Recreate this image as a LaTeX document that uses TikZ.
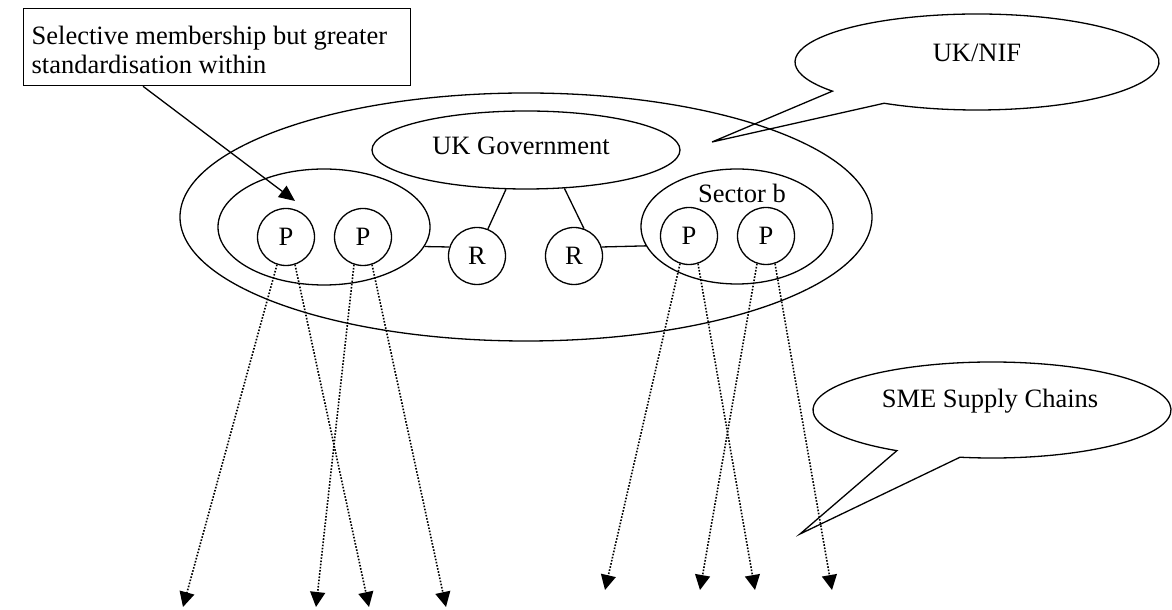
\documentclass[tikz,border=0pt]{standalone}
\usepackage{fontspec}
\setmainfont{Liberation Serif}
\usetikzlibrary{arrows.meta,shapes.geometric}
\begin{document}
\begin{tikzpicture}[x=1pt,y=1pt,line width=1.3pt,
  every node/.style={font=\fontsize{26.5}{29}\selectfont,inner sep=0pt},
  ell/.style={draw,ellipse,inner sep=0pt},
  circ/.style={draw,circle,minimum size=57pt,inner sep=0pt},
  dotarrow/.style={line width=1.6pt,dash pattern=on 1.6pt off 1.6pt,-{Triangle[length=15pt,width=15pt]}},
  solidarrow/.style={-{Triangle[length=16pt,width=14pt]}},
  txt/.style={anchor=base}]
\useasboundingbox (0,0) rectangle (1172,610);
% text box
\node[draw,minimum width=387pt,minimum height=77pt,anchor=north west] (box) at (23,602) {};
\node[anchor=base west] (boxl1) at (31,565) {Selective membership but greater};
\node[anchor=base west] (boxl2) at (31,536) {standardisation within};
% ellipses
\node[ell,minimum width=692pt,minimum height=248pt] (nif) at (526,393) {};
\node[ell,minimum width=308pt,minimum height=78pt] (gov) at (526,460) {};
\node[txt] (govtext) at (521,455) {UK Government};
\node[ell,minimum width=212pt,minimum height=116pt] (lsec) at (324,383) {};
\node[ell,minimum width=192pt,minimum height=115pt] (rsec) at (737,383.5) {};
\node[txt] (secb) at (742,407) {Sector b};
% circles
\node[circ] (p1) at (286,373) {P};
\node[circ] (p2) at (363,373) {P};
\node[circ] (p3) at (689,374) {P};
\node[circ] (p4) at (766,374) {P};
\node[circ] (r1) at (477,354) {R};
\node[circ] (r2) at (574,354) {R};
% solid connectors
\draw (lsec.-11) -- (r1.162);
\draw (r2.18) -- (rsec.192);
\draw (gov.243) -- (r1.68);
\draw (gov.-45) -- (r2.70);
% arrow from box
\coordinate (boxfoot) at ([xshift=120pt]box.south west);
\coordinate (arrtip) at (295,409);
\draw[solidarrow] (boxfoot) -- (arrtip);
% dotted arrows
\coordinate (t1) at (183,3);
\coordinate (t2) at (316,3);
\coordinate (t3) at (369,3);
\coordinate (t4) at (446,3);
\coordinate (t5) at (605,20);
\coordinate (t6) at (700,20);
\coordinate (t7) at (755,20);
\coordinate (t8) at (832,20);
\draw[dotarrow] (p1.252) -- (t1);
\draw[dotarrow] (p2.252) -- (t2);
\draw[dotarrow] (p1.288) -- (t3);
\draw[dotarrow] (p2.288) -- (t4);
\draw[dotarrow] (p3.252) -- (t5);
\draw[dotarrow] (p4.252) -- (t6);
\draw[dotarrow] (p3.288) -- (t7);
\draw[dotarrow] (p4.288) -- (t8);
% UK/NIF callout
\coordinate (nifc) at (977,548);
\coordinate (niftip) at (712,468);
\draw ([shift={(nifc)}]239.3:182 and 48) arc[start angle=239.3,end angle=577.4,x radius=182,y radius=48] -- (niftip) -- cycle;
\node[txt] (niftext) at (977,548) {UK/NIF};
% SME callout
\coordinate (smec) at (992,200);
\coordinate (smetip) at (800,76);
\draw ([shift={(smec)}]259.7:179 and 48) arc[start angle=259.7,end angle=597.9,x radius=179,y radius=48] -- (smetip) -- cycle;
\node[txt] (smetext) at (990,202) {SME Supply Chains};
\end{tikzpicture}
\end{document}
